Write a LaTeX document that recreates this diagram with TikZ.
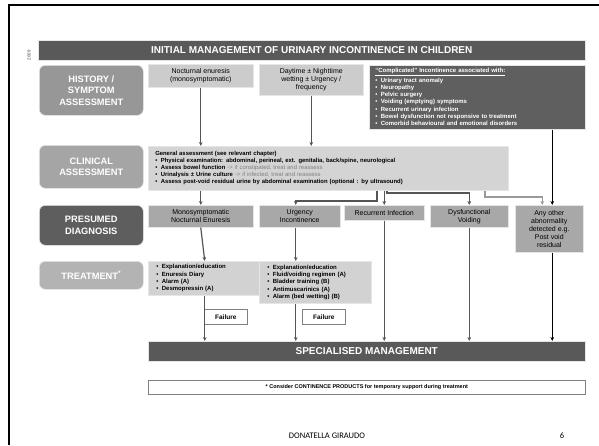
\documentclass[tikz,border=0pt]{standalone}
\usepackage{fontspec}
\setmainfont{Liberation Sans}
\newfontfamily\footfont{Carlito}
\usetikzlibrary{arrows.meta,calc}
\definecolor{barc}{HTML}{595959}
\definecolor{labA}{HTML}{979797}
\definecolor{labB}{HTML}{A5A5A5}
\definecolor{labC}{HTML}{5E5E5E}
\definecolor{labD}{HTML}{B3B3B3}
\definecolor{ltc}{HTML}{CCCCCC}
\definecolor{clc}{HTML}{D4D4D4}
\definecolor{dgc}{HTML}{A8A8A8}
\definecolor{trc}{HTML}{D2D2D2}
\definecolor{cpc}{HTML}{5F5F5F}
\definecolor{linec}{HTML}{555555}
\definecolor{lightline}{HTML}{999999}
\definecolor{edgec}{HTML}{E6E6E6}
\newcommand\bitem{\textbullet\hspace{3.5pt}}
\begin{document}
\begin{tikzpicture}[x=1pt,y=-1pt,
  lab/.style={rounded corners=6pt, draw=edgec, line width=0.6pt, text=white,
    font=\bfseries\fontsize{9.3}{11.5}\selectfont, align=center, anchor=north west,
    minimum width=104pt, inner sep=0pt},
  bx/.style={draw=edgec, line width=0.5pt, anchor=north west, inner sep=0pt,
    align=center, font=\fontsize{7}{8}\selectfont},
  lst/.style={bx, align=left, font=\bfseries\fontsize{6}{7.3}\selectfont},
  bar/.style={draw=edgec, line width=0.5pt, anchor=north west, fill=barc, text=white,
    font=\bfseries\fontsize{10}{11}\selectfont, inner sep=0pt},
  fail/.style={draw=gray, line width=0.6pt, fill=white, anchor=north west,
    minimum width=43pt, minimum height=15pt, inner sep=0pt, font=\bfseries\fontsize{6.5}{7.5}\selectfont},
  arr/.style={draw=linec, line width=1.2pt, -{Stealth[length=4pt,width=3.6pt]}},
  arrl/.style={arr, draw=lightline},
  arrk/.style={arr, draw=black}]
\useasboundingbox (0,0) rectangle (599,445);
\fill[white] (0,0) rectangle (599,445);
\draw[line width=2pt] (9,445) -- (9,5) -- (599,5);

\node[rotate=90, text=gray, font=\bfseries\fontsize{4.5}{5}\selectfont] (yr) at (29,55) {2009};
\node[bar, minimum width=547pt, minimum height=20pt] (title) at (38,40)
  {INITIAL MANAGEMENT OF URINARY INCONTINENCE IN CHILDREN};

\node[lab, fill=labA, minimum height=50pt] (hist) at (39,65) {HISTORY /\\SYMPTOM\\ASSESSMENT};
\node[lab, fill=labB, minimum height=43pt] (clinl) at (39,145) {CLINICAL\\ASSESSMENT};
\node[lab, fill=labC, minimum height=40pt] (pres) at (39,205) {PRESUMED\\DIAGNOSIS};
\node[lab, fill=labD, minimum height=28pt] (treatl) at (39,261) {TREATMENT\textsuperscript{*}};

\node[bx, fill=ltc, minimum width=105pt, minimum height=23pt] (noc) at (148,64)
  {Nocturnal enuresis\\(monosymptomatic)};
\node[bx, fill=ltc, minimum width=104pt, minimum height=31pt] (day) at (259,64)
  {Daytime ± Nighttime\\wetting ± Urgency /\\frequency};
\node[lst, fill=cpc, text=white, minimum width=216pt, minimum height=64pt,
  text width=204pt, inner xsep=6pt] (comp) at (369,65)
  {\underline{“Complicated” Incontinence associated with:}\\[0.5pt]
   \bitem Urinary tract anomaly\\
   \bitem Neuropathy\\
   \bitem Pelvic surgery\\
   \bitem Voiding (emptying) symptoms\\
   \bitem Recurrent urinary infection\\
   \bitem Bowel dysfunction not responsive to treatment\\
   \bitem Comorbid behavioural and emotional disorders};

\node[lst, fill=clc, minimum width=360pt, minimum height=44pt, text width=346pt,
  inner xsep=7pt, font=\bfseries\fontsize{5.9}{7.1}\selectfont] (clin) at (148,146)
  {General assessment (see relevant chapter)\\
   \bitem Physical examination: abdominal, perineal, ext. genitalia, back/spine, neurological\\
   \bitem Assess bowel function {\mdseries\color{gray}-> if constipated, treat and reassess}\\
   \bitem Urinalysis ± Urine culture {\mdseries\color{gray}-> if infected, treat and reassess}\\
   \bitem Assess post-void residual urine by abdominal examination (optional : by ultrasound)};

\node[bx, fill=dgc, minimum width=105pt, minimum height=22pt] (mne) at (148,205)
  {Monosymptomatic\\Nocturnal Enuresis};
\node[bx, fill=dgc, minimum width=81pt, minimum height=22pt] (urg) at (259,205)
  {Urgency\\Incontinence};
\node[bx, fill=dgc, minimum width=80pt, minimum height=15pt] (rec) at (344,205)
  {Recurrent Infection};
\node[bx, fill=dgc, minimum width=78pt, minimum height=22pt] (dys) at (430,205)
  {Dysfunctional\\Voiding};
\node[bx, fill=dgc, minimum width=68pt, minimum height=47pt] (oth) at (515,205)
  {Any other\\abnormality\\detected e.g.\\Post void\\residual};

\node[lst, fill=trc, minimum width=105pt, minimum height=34pt, text width=97pt,
  inner xsep=8pt] (tr1) at (148,261)
  {\bitem Explanation/education\\
   \bitem Enuresis Diary\\
   \bitem Alarm (A)\\
   \bitem Desmopressin (A)};
\node[lst, fill=trc, minimum width=104pt, minimum height=42pt, text width=96pt,
  inner xsep=8pt] (tr2) at (259,261)
  {\bitem Explanation/education\\
   \bitem Fluid/voiding regimen (A)\\
   \bitem Bladder training (B)\\
   \bitem Antimuscarinics (A)\\
   \bitem Alarm (bed wetting) (B)};

\node[fail] (f1) at (204,309) {Failure};
\node[fail] (f2) at (302,309) {Failure};

\node[bar, minimum width=437pt, minimum height=20pt] (spec) at (148,341) {SPECIALISED MANAGEMENT};
\node[draw=gray, line width=0.6pt, fill=white, anchor=north west, minimum width=437pt,
  minimum height=14pt, inner sep=0pt, font=\bfseries\fontsize{5.5}{6.5}\selectfont] (note) at (148,380)
  {* Consider CONTINENCE PRODUCTS for temporary support during treatment};

\node[font=\footfont\fontsize{8.5}{10}\selectfont] (auth) at (327,436) {DONATELLA GIRAUDO};
\node[font=\footfont\fontsize{8.5}{10}\selectfont] (pg) at (562,436) {6};

% helper coordinates
\coordinate (ua) at ([xshift=-4pt]urg.north);
\coordinate (ko) at ([xshift=3pt]oth.north);
\coordinate (go) at ([xshift=-7pt]oth.north);
\coordinate (b1) at (377,201);
\coordinate (b2) at (387,193);
\coordinate (b3) at (485,197);

% history -> clinical
\draw[arr] (noc.south) -- (noc.south |- clin.north);
\draw[arr] (day.south) -- (day.south |- clin.north);
\draw[arrk] (ko |- comp.south) -- (ko);

% clinical -> diagnosis
\draw[arr] (clin.south -| mne.north) -- (mne.north);
\draw[arr] (clin.south -| b1) -- (b1) -| (ua);
\draw[arr] (clin.south -| rec.north) -- (rec.north);
\draw[arr] (clin.south -| b2) -- (b2) -| (dys.north);
\draw[arrl] (clin.south -| b3) -- (b3) -| (go);

% diagnosis -> treatment
\draw[arr] (mne.south) -- (tr1.north);
\draw[arr] (ua |- urg.south) -- (ua |- tr2.north);

% to specialised management
\draw[arr] (tr1.south) -- (tr1.south |- spec.north);
\draw[arr] (ua |- tr2.south) -- (ua |- spec.north);
\draw[arr] (rec.south) -- (rec.south |- spec.north);
\draw[arr] (dys.south) -- (dys.south |- spec.north);
\draw[arrk] (ko |- oth.south) -- (ko |- spec.north);
\end{tikzpicture}
\end{document}
